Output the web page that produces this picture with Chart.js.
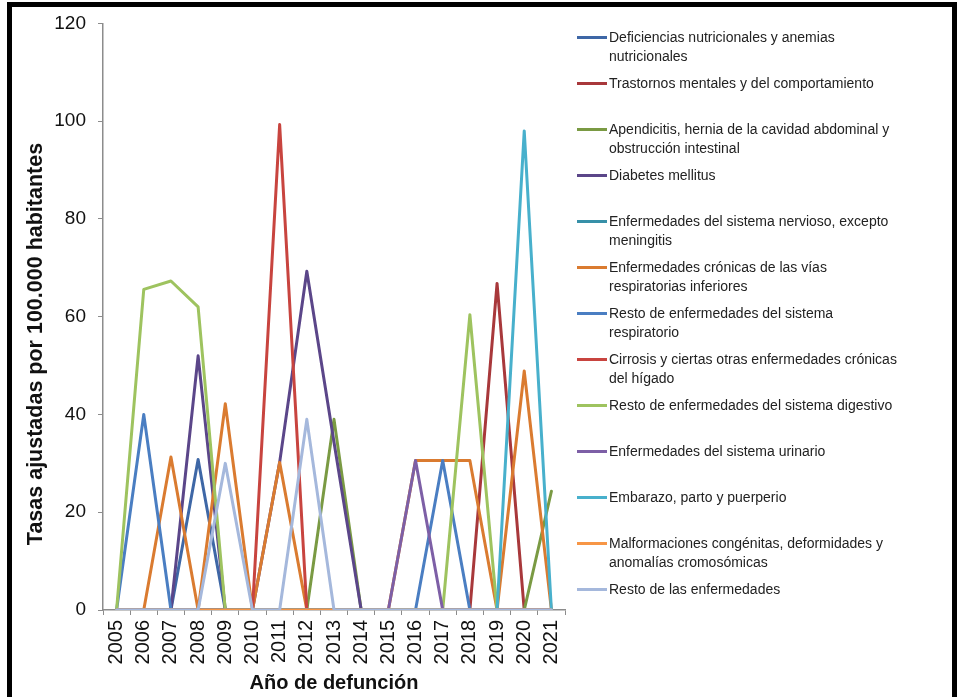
<!DOCTYPE html>
<html>
<head>
<meta charset="utf-8">
<script src="https://cdn.jsdelivr.net/npm/chart.js@4.4.1/dist/chart.umd.min.js"></script>
<style>
  html, body { margin: 0; padding: 0; background: #fff; }
  #wrap   { position: relative; width: 959px; height: 697px; overflow: hidden; }
  #chart  { position: absolute; left: 0; top: 0; }
  #frame  { position: absolute; left: 7px; top: 2px; width: 950px; height: 760px;
            border: 5px solid #000; border-bottom: none; box-sizing: border-box; pointer-events: none; }
  #legend { position: absolute; left: 577px; top: 0; width: 370px; height: 697px;
            font-family: "Liberation Sans Narrow", "Arial Narrow", "Liberation Sans", sans-serif;
            font-size: 14px; color: #222; }
  .item   { position: absolute; left: 0; white-space: nowrap; }
  .swatch { position: absolute; left: 0; top: 8px; width: 30px; height: 3px; }
  .txt    { position: absolute; left: 32px; top: 0; line-height: 19px; }
</style>
</head>
<body>
<div id="wrap">
  <canvas id="chart" width="959" height="697"></canvas>
  <div id="legend"></div>
  <div id="frame"></div>
</div>
<script>
// ── Data ─────────────────────────────────────────────────────
const years = ['2005', '2006', '2007', '2008', '2009', '2010', '2011', '2012', '2013',
               '2014', '2015', '2016', '2017', '2018', '2019', '2020', '2021'];

// one array per cause of death, values per year (2005 → 2021)
const deficiencias   = [0, 0, 0, 30.8, 0, 0, 0, 0, 0, 0, 0, 0, 0, 0, 0, 0, 0];
const trastornos     = [0, 0, 0, 0, 0, 0, 0, 0, 0, 0, 0, 0, 0, 0, 66.8, 0, 0];
const apendicitis    = [0, 0, 0, 0, 0, 0, 0, 0, 39.0, 0, 0, 0, 0, 0, 0, 0, 24.3];
const diabetes       = [0, 0, 0, 52.0, 0, 0, 30.2, 69.3, 34.3, 0, 0, 0, 0, 0, 0, 0, 0];
const nervioso       = [0, 0, 0, 0, 0, 0, 0, 0, 0, 0, 0, 0, 0, 0, 0, 0, 0];
const cronicasResp   = [0, 0, 31.3, 0, 42.2, 0, 30.2, 0, 0, 0, 0, 30.6, 30.6, 30.6, 0, 48.9, 0];
const restoResp      = [0, 40.0, 0, 0, 0, 0, 0, 0, 0, 0, 0, 0, 30.6, 0, 0, 0, 0];
const cirrosis       = [0, 0, 0, 0, 0, 0, 99.3, 0, 0, 0, 0, 0, 0, 0, 0, 0, 0];
const restoDigestivo = [0, 65.6, 67.3, 62.0, 0, 0, 0, 0, 0, 0, 0, 0, 0, 60.4, 0, 0, 0];
const urinario       = [0, 0, 0, 0, 0, 0, 0, 0, 0, 0, 0, 30.6, 0, 0, 0, 0, 0];
const embarazo       = [0, 0, 0, 0, 0, 0, 0, 0, 0, 0, 0, 0, 0, 0, 0, 98.0, 0];
const malformaciones = [0, 0, 0, 0, 0, 0, 0, 0, 0, 0, 0, 0, 0, 0, 0, 0, 0];
const restoEnf       = [0, 0, 0, 0, 30.0, 0, 0, 39.0, 0, 0, 0, 0, 0, 0, 0, 0, 0];

// legend names, split where the original legend wraps
const seriesNames = [
    ['Deficiencias nutricionales y anemias', 'nutricionales'],
    ['Trastornos mentales y del comportamiento'],
    ['Apendicitis, hernia de la cavidad abdominal y', 'obstrucción intestinal'],
    ['Diabetes mellitus'],
    ['Enfermedades del sistema nervioso, excepto', 'meningitis'],
    ['Enfermedades crónicas de las vías', 'respiratorias inferiores'],
    ['Resto de enfermedades del sistema', 'respiratorio'],
    ['Cirrosis y ciertas otras enfermedades crónicas', 'del hígado'],
    ['Resto de enfermedades del sistema digestivo'],
    ['Enfermedades del sistema urinario'],
    ['Embarazo, parto y puerperio'],
    ['Malformaciones congénitas, deformidades y', 'anomalías cromosómicas'],
    ['Resto de las enfermedades']
];

const seriesValues = [deficiencias, trastornos, apendicitis, diabetes, nervioso, cronicasResp,
                      restoResp, cirrosis, restoDigestivo, urinario, embarazo, malformaciones, restoEnf];

const seriesColors = ['#3E67A6', '#A8383B', '#7A9A43', '#5B4689', '#3790A8', '#DA7B30',
                      '#4A7EC2', '#C8443F', '#9EC35F', '#7D5FA6', '#48B0CC', '#F79646', '#A5B8DC'];

const xTitle = 'Año de defunción';
const yTitle = 'Tasas ajustadas por 100.000 habitantes';

const NARROW = '"Liberation Sans Narrow", "Arial Narrow", "Liberation Sans", sans-serif';
const AXIS_COLOR = '#8c8c8c';

// ── Y axis title (drawn by hand so it can sit off-centre like the original) ──
const yTitlePlugin = {
    id: 'yTitle',
    afterDraw(chart) {
        const ctx = chart.ctx;
        ctx.save();
        ctx.translate(36, 344);
        ctx.rotate(-Math.PI / 2);
        ctx.font = 'bold 21.5px ' + NARROW;
        ctx.fillStyle = '#111';
        ctx.textAlign = 'center';
        ctx.textBaseline = 'middle';
        ctx.fillText(yTitle, 0, 0);
        ctx.restore();
    }
};

// ── Chart ────────────────────────────────────────────────────
const n = seriesValues.length;
new Chart(document.getElementById('chart'), {
    type: 'line',
    data: {
        labels: years,
        datasets: seriesValues.map((vals, i) => ({
            label:           seriesNames[i].join(' '),
            data:            vals,
            borderColor:     seriesColors[i],
            backgroundColor: seriesColors[i],
            borderWidth:     3,
            borderJoinStyle: 'round',
            borderCapStyle:  'round',
            pointRadius:     0,
            tension:         0,
            order:           n - 1 - i   // later series on top, as in Excel
        }))
    },
    options: {
        responsive: false,
        animation: false,
        layout: { padding: { left: 12, top: 20, right: 394, bottom: 0 } },
        plugins: {
            legend:  { display: false },
            tooltip: { enabled: false }
        },
        scales: {
            x: {
                offset: true,
                grid: { offset: true, drawOnChartArea: false, tickLength: 5, color: AXIS_COLOR },
                border: { color: AXIS_COLOR, width: 1.5 },
                ticks: {
                    autoSkip: false, minRotation: 90, maxRotation: 90, padding: 5,
                    color: '#111', font: { family: NARROW, size: 20 }
                },
                title: {
                    display: true, text: xTitle, color: '#111',
                    font: { family: NARROW, size: 20, weight: 'bold' },
                    padding: { top: 0, bottom: 2 }
                },
                afterFit(scale) { scale.height = 87; }
            },
            y: {
                min: 0, max: 120,
                grid: { drawOnChartArea: false, tickLength: 5, color: AXIS_COLOR },
                border: { color: AXIS_COLOR, width: 1.5 },
                ticks: {
                    stepSize: 20, padding: 12,
                    color: '#111', font: { family: NARROW, size: 19 }
                },
                afterFit(scale) { scale.width = 91; }
            }
        }
    },
    plugins: [yTitlePlugin]
});

// ── HTML legend ─────────────────────────────────────────────
const legendBox = document.getElementById('legend');
seriesNames.forEach((lines, i) => {
    const item = document.createElement('div');
    item.className = 'item';
    item.style.top = (27.5 + i * 46) + 'px';
    const sw = document.createElement('div');
    sw.className = 'swatch';
    sw.style.background = seriesColors[i];
    const txt = document.createElement('div');
    txt.className = 'txt';
    lines.forEach((line, k) => {
        if (k) txt.appendChild(document.createElement('br'));
        txt.appendChild(document.createTextNode(line));
    });
    item.appendChild(sw);
    item.appendChild(txt);
    legendBox.appendChild(item);
});
</script>
</body>
</html>
